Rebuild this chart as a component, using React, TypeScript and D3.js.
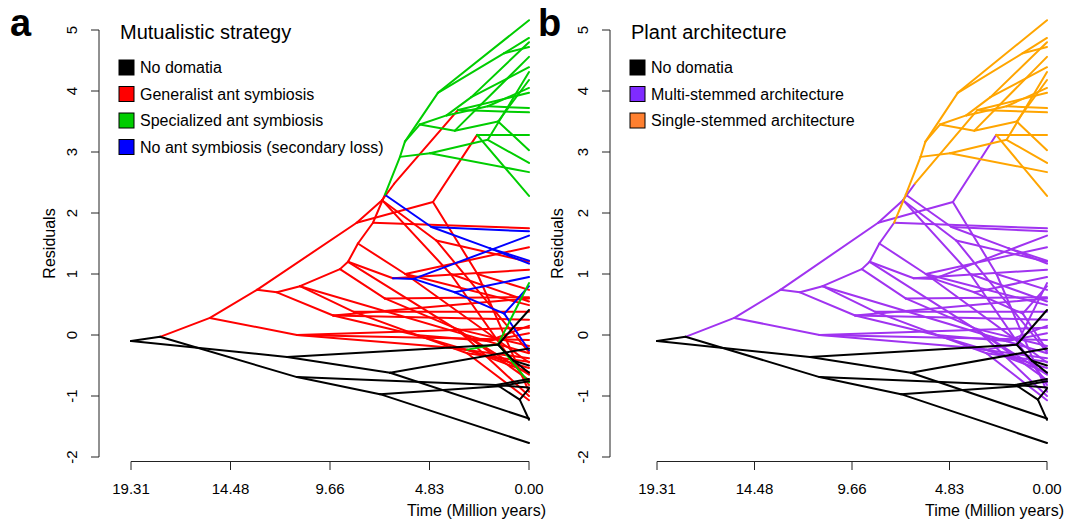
import * as d3 from "d3";

// Phenogram of residuals over time. Each node: id, parent, age (Myr before present), residual.
// State of the branch leading to the node: panel a (mutualism) and panel b (architecture).
const nodeId = [
  "R0", "N1", "N3", "N2", "N4", "t1", "N11", "t2", "t3", "N5", "t4", "t5", "N6", "t6", "N8", "t7", "N10", "t8", "t9", "N12", "t10", "t11",
  "P1", "P3", "r1", "P3a", "r2", "LGa", "r3", "LG", "g1", "g2",
  "P2", "P4", "P6", "P7", "P8", "P9", "Q0", "G0", "r4", "P9b", "r5", "r6",
  "P8b", "B3", "b1", "B4", "b2", "B5", "b3", "b4", "r7",
  "P7b", "r8", "P7c", "r9", "r10", "P6b", "r11", "P6c", "r12", "r13",
  "P4b", "r14", "P4c", "P4d", "r15", "r16", "r17",
  "P5", "Q1", "RGa", "RG", "gR1", "gR2", "Q1b", "r18", "r19",
  "Q", "QGa", "gQ1", "gQ2", "Qb", "r20", "r21",
  "r22", "r23", "Q1c", "r24", "r25", "r26", "r27", "r28", "r29",
  "B1", "b5", "B2", "b6", "b7",
  "Ga", "Gb", "Gc", "g3", "Gc2", "g4", "g5", "Gd", "Ge", "Gf", "g6", "g7", "Gg", "g8", "g9",
  "Gh", "g10", "Gi", "g11", "g12", "Gj", "g13", "Gk", "g14", "g15",
];
const nodeParent = [
  "", "R0", "R0", "N1", "N3", "N4", "N4", "N11", "N11", "N3", "N5", "N5", "N2", "N6", "N6", "N8", "N8", "N10", "N10", "N2", "N12", "N12",
  "N1", "P1", "P3", "P3", "P3a", "P3a", "LGa", "LGa", "LG", "LG",
  "P1", "P2", "P4", "P6", "P7", "P8", "P9", "Q0", "Q0", "P9", "P9b", "P9b",
  "P8", "P8b", "B3", "B3", "B4", "B4", "B5", "B5", "P8b",
  "P7", "P7b", "P7b", "P7c", "P7c", "P6", "P6b", "P6b", "P6c", "P6c",
  "P4", "P4b", "P4b", "P4c", "P4d", "P4d", "P4c",
  "P2", "P5", "Q1", "RGa", "RG", "RG", "Q1", "Q1b", "Q1b",
  "P5", "Q", "QGa", "QGa", "Q", "Qb", "Qb",
  "P8", "P9b", "Q1", "Q1c", "Q1c", "P7c", "P4b", "P6", "P3",
  "G0", "B1", "B1", "B2", "B2",
  "G0", "Ga", "Gb", "Gc", "Gc", "Gc2", "Gc2", "Gb", "Gd", "Ge", "Gf", "Gf", "Ge", "Gg", "Gg",
  "Gd", "Gh", "Gh", "Gi", "Gi", "Ga", "Gj", "Gj", "Gk", "Gk",
];
const nodeAge = [
  19.31, 17.9, 11.74, 11.26, 1.5, 0, 0.75, 0, 0, 6.74, 0, 0, 7.23, 0, 1.45, 0, 0.45, 0, 0, 1.6, 0, 0,
  15.48, 11.26, 0, 4.0, 0, 3.0, 0, 1.5, 0, 0,
  13.2, 12.23, 11.11, 9.17, 8.78, 8.3, 7.57, 6.99, 0, 6.0, 0, 0,
  6.6, 5.6, 0, 3.6, 0, 1.2, 0, 0, 0,
  7.0, 0, 3.5, 0, 0, 8.5, 0, 3.0, 0, 0,
  9.5, 0, 5.5, 2.0, 0, 0, 0,
  8.36, 7.13, 6.54, 3.44, 0, 0, 4.5, 0, 0,
  4.66, 2.52, 0, 0, 2.5, 0, 0,
  0, 0, 3.8, 0, 0, 0, 0, 0, 0,
  4.73, 0, 1.89, 0, 0,
  6.26, 6.02, 4.42, 0, 1.2, 0, 0, 5.3, 4.0, 2.8, 0, 0, 2.0, 0, 0,
  3.6, 0, 1.5, 0, 0, 4.8, 0, 2.0, 0, 0,
];
const nodeValue = [
  -0.1, -0.03, -0.36, -0.69, -0.16, 0.41, -0.42, -0.5, -0.62, -0.62, -0.22, -1.37, -0.97, -1.77, -0.84, -0.76, -1.06, -0.88, -1.39, -0.82, -0.86, -0.72,
  0.28, 0.0, -0.08, -0.2, -0.38, -0.24, -0.61, -0.15, 0.85, -0.78,
  0.74, 0.7, 0.8, 1.08, 1.2, 1.5, 1.84, 2.3, 1.75, 1.0, 1.44, 0.49,
  0.93, 0.92, 1.63, 0.7, 0.95, 0.35, 0.8, -0.25, 1.07,
  0.6, 0.62, 0.1, -0.18, -0.74, 0.38, 0.38, -0.3, -0.44, -1.07,
  0.32, 0.25, 0.0, -0.1, 0.15, 0.03, -0.54,
  1.84, 2.21, 2.48, 3.69, 3.97, 3.65, 1.55, 1.2, -0.28,
  2.18, 3.28, 3.28, 2.28, 1.0, 0.74, -0.93,
  -0.65, -0.45, 1.0, -0.82, 0.55, -1.0, 0.6, -0.3, 0.12,
  1.77, 1.7, 1.42, 1.22, 1.17,
  2.92, 3.17, 3.97, 5.16, 4.62, 4.87, 4.72, 3.45, 3.6, 3.9, 4.8, 4.39, 3.75, 4.05, 3.72,
  3.35, 4.56, 3.5, 4.18, 3.03, 2.98, 2.67, 3.2, 4.31, 2.82,
];
const mutualism = [
  "N", "N", "N", "N", "N", "N", "N", "N", "N", "N", "N", "N", "N", "N", "N", "N", "N", "N", "N", "N", "N", "N",
  "G", "G", "G", "G", "G", "G", "G", "S", "S", "S",
  "G", "G", "G", "G", "G", "G", "G", "G", "G", "G", "G", "G",
  "G", "L", "L", "L", "L", "L", "L", "L", "G",
  "G", "G", "G", "G", "G", "G", "G", "G", "G", "G",
  "G", "G", "G", "G", "G", "G", "G",
  "G", "G", "G", "G", "S", "S", "G", "G", "G",
  "G", "G", "S", "S", "G", "G", "G",
  "G", "G", "G", "G", "G", "G", "G", "G", "G",
  "L", "L", "L", "L", "L",
  "S", "S", "S", "S", "S", "S", "S", "S", "S", "S", "S", "S", "S", "S", "S",
  "S", "S", "S", "S", "S", "S", "S", "S", "S", "S",
];
const architecture = [
  "N", "N", "N", "N", "N", "N", "N", "N", "N", "N", "N", "N", "N", "N", "N", "N", "N", "N", "N", "N", "N", "N",
  "M", "M", "M", "M", "M", "M", "M", "M", "M", "M",
  "M", "M", "M", "M", "M", "M", "M", "S", "M", "M", "M", "M",
  "M", "M", "M", "M", "M", "M", "M", "M", "M",
  "M", "M", "M", "M", "M", "M", "M", "M", "M", "M",
  "M", "M", "M", "M", "M", "M", "M",
  "M", "M", "M", "S", "S", "S", "M", "M", "M",
  "M", "M", "S", "S", "M", "M", "M",
  "M", "M", "M", "M", "M", "M", "M", "M", "M",
  "M", "M", "M", "M", "M",
  "S", "S", "S", "S", "S", "S", "S", "S", "S", "S", "S", "S", "S", "S", "S",
  "S", "S", "S", "S", "S", "S", "S", "S", "S", "S",
];

const xTickAges = [19.31, 14.4825, 9.655, 4.8275, 0];
const xTickLabels = ["19.31", "14.48", "9.66", "4.83", "0.00"];
const yTicks = [-2, -1, 0, 1, 2, 3, 4, 5];

const mutualismKeys = ["N", "G", "S", "L"];
const mutualismLabels = ["No domatia", "Generalist ant symbiosis", "Specialized ant symbiosis", "No ant symbiosis (secondary loss)"];
const architectureKeys = ["N", "M", "S"];
const architectureLabels = ["No domatia", "Multi-stemmed architecture", "Single-stemmed architecture"];

const FONT = "'Liberation Sans', Arial, Helvetica, sans-serif";

type PanelProps = {
  tag: string;
  tagX: number;
  title: string;
  axisX: number;
  residualsX: number;
  x0: number;
  x1: number;
  states: string[];
  lineColor: Record<string, string>;
  boxColor: Record<string, string>;
  drawOrder: string[];
  legendKeys: string[];
  legendLabels: string[];
};

const Panel = (p: PanelProps) => {
  const xScale = d3.scaleLinear().domain([19.31, 0]).range([p.x0, p.x1]);
  const yScale = d3.scaleLinear().domain([-2, 5]).range([457, 30]);
  const index = new Map(nodeId.map((id, i) => [id, i]));

  const edges = nodeId
    .map((_, i) => ({ i, p: index.get(nodeParent[i]) }))
    .filter((e) => e.p !== undefined) as { i: number; p: number }[];
  const sorted = [...edges].sort(
    (a, b) => p.drawOrder.indexOf(p.states[a.i]) - p.drawOrder.indexOf(p.states[b.i])
  );
  const line = d3.line<[number, number]>().x((d) => xScale(d[0])).y((d) => yScale(d[1]));

  const titleX = p.axisX + 21;
  return (
    <g fontFamily={FONT}>
      <text x={p.tagX} y={36} fontSize={38} fontWeight="bold">{p.tag}</text>
      {/* y axis */}
      <line x1={p.axisX} x2={p.axisX} y1={yScale(5)} y2={yScale(-2)} stroke="#222" />
      {yTicks.map((t) => (
        <g key={t}>
          <line x1={p.axisX - 8} x2={p.axisX} y1={yScale(t)} y2={yScale(t)} stroke="#222" />
          <text transform={`translate(${p.axisX - 22},${yScale(t)}) rotate(-90)`} textAnchor="middle" fontSize={15}>{t}</text>
        </g>
      ))}
      <text transform={`translate(${p.residualsX},${(yScale(5) + yScale(-2)) / 2}) rotate(-90)`} textAnchor="middle" fontSize={16}>Residuals</text>
      {/* x axis */}
      <line x1={p.x0} x2={p.x1} y1={461.5} y2={461.5} stroke="#222" />
      {xTickAges.map((a, i) => (
        <g key={i}>
          <line x1={xScale(a)} x2={xScale(a)} y1={461.5} y2={470} stroke="#222" />
          <text x={xScale(a)} y={494} textAnchor="middle" fontSize={15}>{xTickLabels[i]}</text>
        </g>
      ))}
      <text x={p.x1 + 17} y={516} textAnchor="end" fontSize={16}>Time (Million years)</text>
      {/* tree */}
      {sorted.map((e) => (
        <path
          key={e.i}
          d={line([[nodeAge[e.p], nodeValue[e.p]], [nodeAge[e.i], nodeValue[e.i]]]) ?? ""}
          stroke={p.lineColor[p.states[e.i]]}
          strokeWidth={2}
          strokeLinecap="round"
          fill="none"
        />
      ))}
      {/* legend */}
      <text x={titleX} y={39} fontSize={20}>{p.title}</text>
      {p.legendKeys.map((k, i) => (
        <g key={k}>
          <rect x={titleX - 1} y={60 + i * 26.5} width={15} height={15} fill={p.boxColor[k]} stroke="#000" strokeWidth={1} />
          <text x={titleX + 20} y={73 + i * 26.5} fontSize={16}>{p.legendLabels[i]}</text>
        </g>
      ))}
    </g>
  );
};

export default function App() {
  return (
    <div style={{ position: "absolute", left: 0, top: 0, background: "#fff" }}>
      <svg width={1085} height={523} style={{ display: "block" }}>
        <rect width={1085} height={523} fill="#fff" />
        <Panel
          tag="a"
          tagX={10}
          title="Mutualistic strategy"
          axisX={99}
          residualsX={55}
          x0={131}
          x1={529}
          states={mutualism}
          lineColor={{ N: "#000000", G: "#FF0000", S: "#00CD00", L: "#0000FF" }}
          boxColor={{ N: "#000000", G: "#FF0000", S: "#00CD00", L: "#0000FF" }}
          drawOrder={["G", "L", "S", "N"]}
          legendKeys={mutualismKeys}
          legendLabels={mutualismLabels}
        />
        <Panel
          tag="b"
          tagX={538}
          title="Plant architecture"
          axisX={610}
          residualsX={563}
          x0={657}
          x1={1047}
          states={architecture}
          lineColor={{ N: "#000000", M: "#A033F0", S: "#FFA500" }}
          boxColor={{ N: "#000000", M: "#7F2BFF", S: "#FF8030" }}
          drawOrder={["M", "S", "N"]}
          legendKeys={architectureKeys}
          legendLabels={architectureLabels}
        />
      </svg>
    </div>
  );
}
